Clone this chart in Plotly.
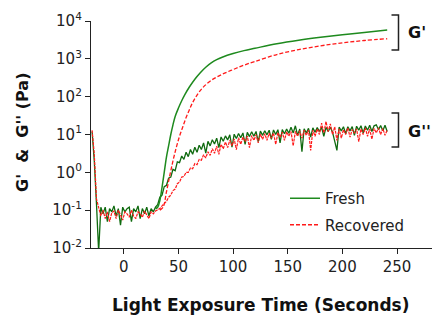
import plotly.graph_objects as go

# ---------------- data ----------------
t_noise = list(range(-29, 242, 2))

gpp_fresh = [
    12, 2.0, 0.15, 0.008, 0.12, 0.08, 0.12, 0.05, 0.11, 0.09,
    0.13, 0.07, 0.11, 0.04, 0.12, 0.09, 0.11, 0.12, 0.05, 0.11,
    0.09, 0.13, 0.06, 0.11, 0.08, 0.12, 0.07, 0.11, 0.09, 0.12,
    0.14, 0.22, 0.25, 0.42, 0.45, 0.7, 0.75, 1.2, 1.1, 1.9,
    1.8, 2.7, 2.2, 3.4, 2.6, 4.0, 3.0, 4.6, 3.4, 5.2,
    4.0, 6.0, 3.2, 6.6, 5.0, 7.3, 5.6, 8.0, 4.5, 8.6,
    6.6, 9.2, 7.2, 9.8, 4.6, 10.2, 7.8, 10.6, 8.2, 11,
    5.5, 11.4, 8.8, 11.8, 9.0, 12, 6.5, 12.3, 9.5, 12.6,
    9.8, 13, 7.5, 13.2, 10, 13.4, 6.0, 13.5, 10.5, 14,
    10.8, 15.5, 11, 17, 9.5, 14, 3.5, 14.2, 11, 14.5,
    8.5, 15, 11.5, 15.2, 12, 15.4, 9, 15.5, 12, 15.6,
    11.5, 6, 3.8, 15.6, 12.5, 16, 10.5, 16, 12.5, 16.2,
    9.5, 16.5, 13, 17, 11, 16.8, 13, 17.5, 12, 17,
    18, 13.5, 17.2, 12.5, 17.5, 12,
]

gpp_recovered = [
    13, 3.0, 0.2, 0.12, 0.07, 0.1, 0.06, 0.09, 0.05, 0.085,
    0.095, 0.06, 0.1, 0.075, 0.055, 0.09, 0.08, 0.065, 0.1, 0.07,
    0.06, 0.09, 0.08, 0.065, 0.095, 0.075, 0.06, 0.09, 0.08, 0.095,
    0.1, 0.11, 0.13, 0.15, 0.17, 0.22, 0.25, 0.33, 0.36, 0.5,
    0.55, 0.75, 0.78, 1.0, 1.0, 1.3, 1.25, 1.7, 1.6, 2.2,
    2.1, 2.9, 2.4, 3.5, 2.8, 4.2, 3.2, 4.9, 3.0, 5.5,
    4.2, 6.3, 4.5, 7.0, 5.0, 7.6, 4.0, 8.2, 5.5, 8.6,
    6.5, 9.0, 4.5, 9.4, 7.0, 9.8, 6.0, 10.2, 7.5, 10.5,
    7.0, 10.8, 8.0, 11, 5.5, 11.2, 8.5, 11.5, 7.0, 11.8,
    9.0, 12, 5.0, 12.2, 9.0, 12.5, 8.0, 13, 9.5, 13.2,
    3.8, 13, 9, 14, 10, 20, 11, 22, 12, 19,
    10, 16, 7, 14, 8, 13.5, 10, 15, 8.5, 13.5,
    11, 14, 6.5, 14, 10, 15, 9, 14, 7.5, 14.5,
    11, 15, 10, 14.5, 9.5, 13,
]

t_gp_fresh = [29, 31, 33, 35, 37, 39, 41, 43, 45, 47, 50, 53, 56, 60, 65, 70,
              75, 80, 85, 90, 100, 110, 120, 140, 160, 180, 200, 220, 241]
gp_fresh = [0.11, 0.12, 0.18, 0.4, 1.0, 2.5, 5, 10, 18, 30, 50, 78, 115, 180, 290, 430,
            600, 780, 950, 1100, 1380, 1650, 1900, 2500, 3100, 3700, 4300, 5000, 5800]

t_gp_recovered = [33, 36, 39, 42, 45, 48, 51, 54, 57, 60, 63, 67, 72, 80, 90, 100,
                  110, 120, 140, 160, 180, 200, 220, 241]
gp_recovered = [0.1, 0.12, 0.3, 0.8, 2.0, 4.5, 9, 16, 28, 45, 70, 110, 170, 270, 390, 520,
                680, 850, 1300, 1750, 2200, 2650, 3050, 3400]

x_ticks = [0, 50, 100, 150, 200, 250]
y_ticks = [0.01, 0.1, 1, 10, 100, 1000, 10000]
y_tick_text = ["10<sup>-2</sup>", "10<sup>-1</sup>", "10<sup>0</sup>", "10<sup>1</sup>",
               "10<sup>2</sup>", "10<sup>3</sup>", "10<sup>4</sup>"]

GREEN = "#1e8a1e"
GREEN_DARK = "#0f6a0f"
RED = "#ff1a1a"
FONT = "DejaVu Sans"

fig = go.Figure()
fig.add_trace(go.Scatter(x=t_noise, y=gpp_fresh, mode="lines",
                         line=dict(color=GREEN_DARK, width=1.3), showlegend=False))
fig.add_trace(go.Scatter(x=t_noise, y=gpp_recovered, mode="lines",
                         line=dict(color=RED, width=1.2, dash="3px,1px"), showlegend=False))
fig.add_trace(go.Scatter(x=t_gp_fresh, y=gp_fresh, mode="lines", name="Fresh",
                         line=dict(color=GREEN, width=1.5, shape="spline"), legendgroup="a"))
fig.add_trace(go.Scatter(x=t_gp_recovered, y=gp_recovered, mode="lines", name="Recovered",
                         line=dict(color=RED, width=1.3, dash="4px,2px", shape="spline"),
                         legendgroup="b"))

L, R, T, B = 91, 0, 21, 72
W, H = 432, 320
pw, ph = W - L - R, H - T - B


def px(x):
    return (x - L) / pw


def py(y):
    return (H - B - y) / ph


shapes = []
for top, bot in [(15, 50), (113, 147)]:
    shapes.append(dict(type="path", xref="paper", yref="paper",
                       path=f"M {px(391.5)},{py(top)} L {px(398.5)},{py(top)} L {px(398.5)},{py(bot)} L {px(391.5)},{py(bot)}",
                       line=dict(color="#222", width=1.5)))

annotations = [
    dict(text="<b>G'</b>", x=px(406), y=py(33), xref="paper", yref="paper",
         xanchor="left", yanchor="middle", showarrow=False,
         font=dict(family=FONT, size=16, color="#111")),
    dict(text="<b>G''</b>", x=px(406), y=py(131), xref="paper", yref="paper",
         xanchor="left", yanchor="middle", showarrow=False,
         font=dict(family=FONT, size=16, color="#111")),
    dict(text="<b>Light Exposure Time (Seconds)</b>", x=px(261), y=py(305),
         xref="paper", yref="paper", xanchor="center", yanchor="middle",
         showarrow=False, font=dict(family=FONT, size=17, color="#111")),
    dict(text="<b>G'  &  G'' (Pa)</b>", x=px(22), y=py(133), textangle=-90,
         xref="paper", yref="paper", xanchor="center", yanchor="middle",
         showarrow=False, font=dict(family=FONT, size=16, color="#111")),
]

fig.update_layout(
    template="none",
    width=W, height=H,
    margin=dict(l=L, r=R, t=T, b=B, pad=0, autoexpand=False),
    paper_bgcolor="white", plot_bgcolor="white",
    font=dict(family=FONT, size=14, color="#222"),
    shapes=shapes, annotations=annotations,
    legend=dict(x=px(285), y=py(182), xanchor="left", yanchor="top",
                bgcolor="rgba(0,0,0,0)", font=dict(family=FONT, size=15, color="#222"),
                tracegroupgap=4, itemwidth=30),
)
fig.update_xaxes(range=[-30, 282], tickvals=x_ticks, ticks="outside", ticklen=5,
                 tickwidth=1.3, tickcolor="#222", showline=True, linecolor="#222",
                 linewidth=1.3, showgrid=False, zeroline=False, automargin=False,
                 tickfont=dict(family=FONT, size=15, color="#222"))
fig.update_yaxes(type="log", range=[-2, 4], tickvals=y_ticks, ticktext=y_tick_text,
                 ticks="outside", ticklen=5, tickwidth=1.3, tickcolor="#222",
                 showline=True, linecolor="#222", linewidth=1.3, showgrid=False,
                 zeroline=False, automargin=False,
                 tickfont=dict(family=FONT, size=15, color="#222"))

fig.write_html("out.html", config={"displayModeBar": False},
               post_script="document.body.style.margin='0';document.body.style.padding='0';document.body.style.overflow='hidden';")
